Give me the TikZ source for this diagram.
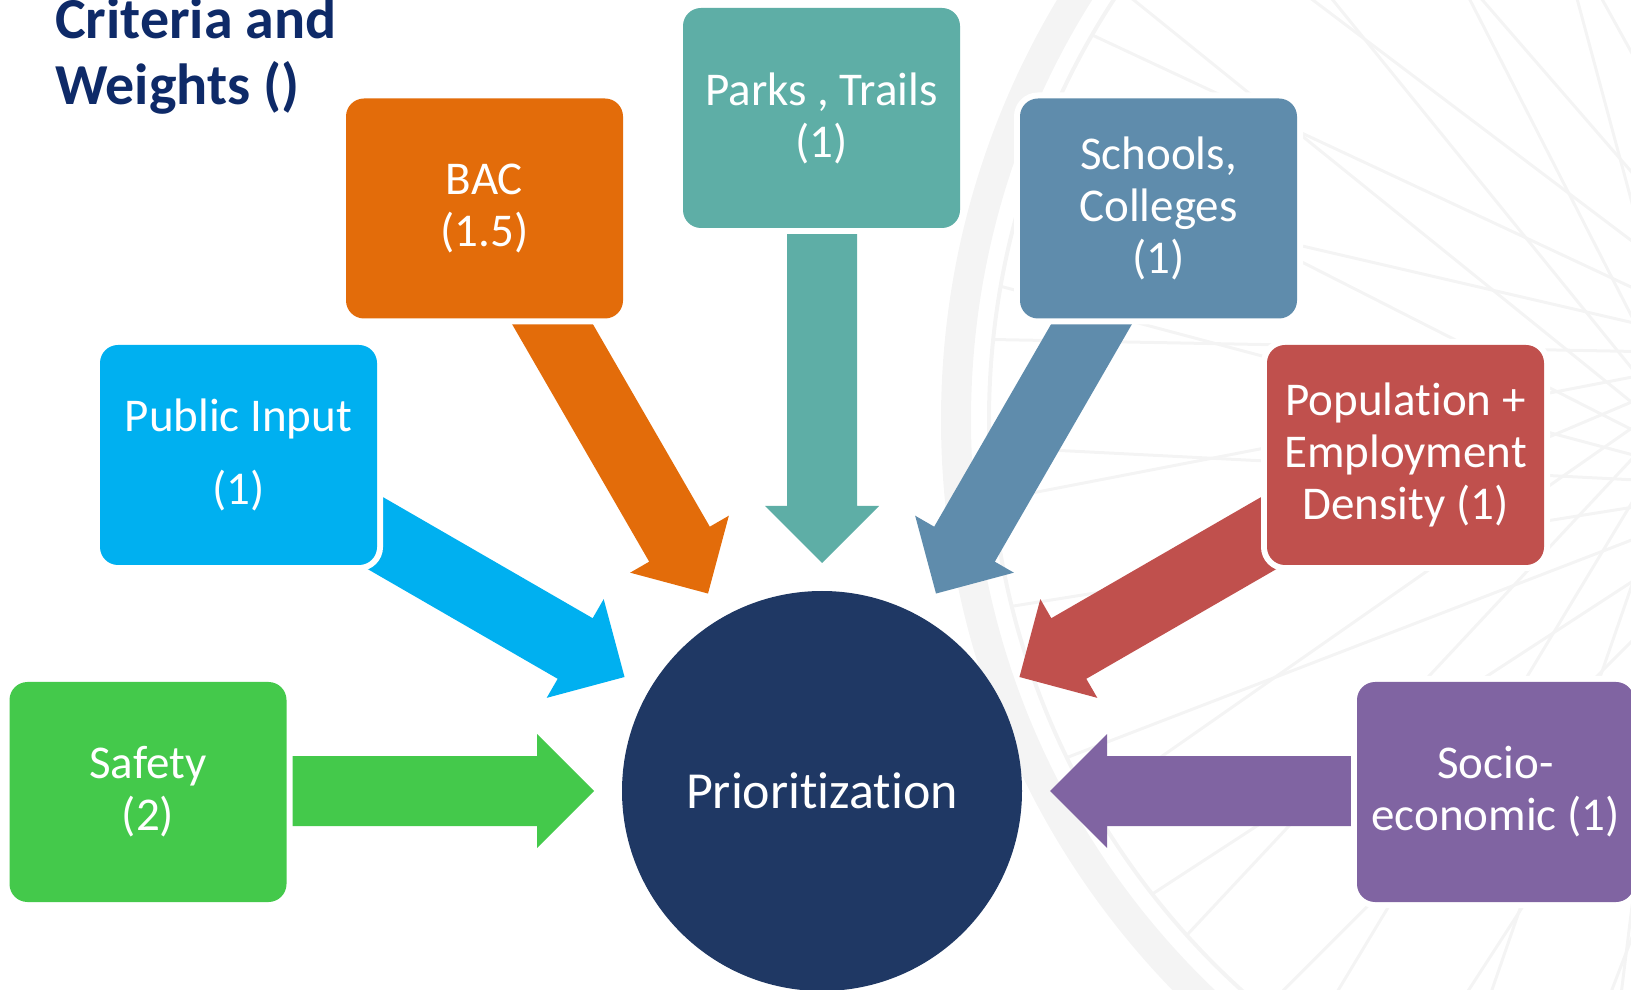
\documentclass[tikz,border=0pt]{standalone}
\usepackage{fontspec}
\setmainfont{Carlito}[Ligatures={NoCommon}]
\usetikzlibrary{calc}
\definecolor{cSafety}{RGB}{68,201,75}
\definecolor{cPublic}{RGB}{0,176,240}
\definecolor{cBAC}{RGB}{227,108,10}
\definecolor{cParks}{RGB}{94,174,166}
\definecolor{cSchools}{RGB}{95,140,172}
\definecolor{cPop}{RGB}{192,80,77}
\definecolor{cSocio}{RGB}{128,100,162}
\definecolor{cCirc}{RGB}{31,56,100}
\definecolor{cTitle}{RGB}{14,42,104}
\definecolor{cWm}{RGB}{244,244,244}
\tikzset{
  box/.style={rectangle, rounded corners=18pt, minimum width=277pt, minimum height=220pt,
    inner sep=0pt, align=center, text=white, font=\fontsize{47}{52}\selectfont,
    preaction={draw=white, line width=12pt}},
  hub/.style={circle, fill=cCirc, minimum size=400pt, inner sep=0pt, text=white,
    font=\fontsize{52}{60}\selectfont},
  titletext/.style={anchor=base west, inner sep=0pt, text=cTitle, font=\bfseries\fontsize{58}{65}\selectfont},
  wm/.style={draw=cWm, line cap=round}
}
\newcommand\radarrow[2]{%
  \fill[#2, shift={(prio.center)}, rotate=#1]
    (600,35) -- (285,35) -- (285,57) -- (228,0) -- (285,-57) -- (285,-35) -- (600,-35) -- cycle;}
\begin{document}
\begin{tikzpicture}[x=1pt,y=1pt]
\useasboundingbox (0,0) rectangle (1631,989);
% watermark wheel
\begin{scope}
  \clip (0,0) rectangle (1631,989);
  \coordinate (wc) at (1759,569);
  \draw[wm, line width=30pt] (wc) circle (803);
  \draw[wm, line width=4pt] (wc) circle (770);
  \foreach \a in {100,112,...,268} {
    \draw[wm, line width=3pt] ($(wc)+(\a+90:70)$) -- ($(wc)+(\a-14:770)$);
    \draw[wm, line width=3pt] ($(wc)+(\a-90:70)$) -- ($(wc)+(\a+14:770)$);
  }
\end{scope}
% central circle
\node[hub] (prio) at (822,198) {Prioritization};
% arrows
\radarrow{180}{cSafety}
\radarrow{150}{cPublic}
\radarrow{120}{cBAC}
\radarrow{90}{cParks}
\radarrow{60}{cSchools}
\radarrow{30}{cPop}
\radarrow{0}{cSocio}
% boxes
\node[box, fill=cSafety] (safety) at (148,197) {Safety\\(2)};
\node[box, fill=cPublic] (public) at (238.5,534) {Public Input\\[21pt](1)};
\node[box, fill=cBAC] (bac) at (484.5,780.5) {BAC\\(1.5)};
\node[box, fill=cParks] (parks) at (821.5,871) {Parks , Trails\\(1)};
\node[box, fill=cSchools] (schools) at (1158.5,780.5) {Schools,\\Colleges\\(1)};
\node[box, fill=cPop] (pop) at (1405.5,534) {Population +\\Employment\\Density (1)};
\node[box, fill=cSocio] (socio) at (1495.5,197) {Socio-\\economic (1)};
% title
\node[titletext] (title1) at (55,950) {Criteria and};
\node[titletext] (title2) at (55,884) {Weights ()};
\end{tikzpicture}
\end{document}
